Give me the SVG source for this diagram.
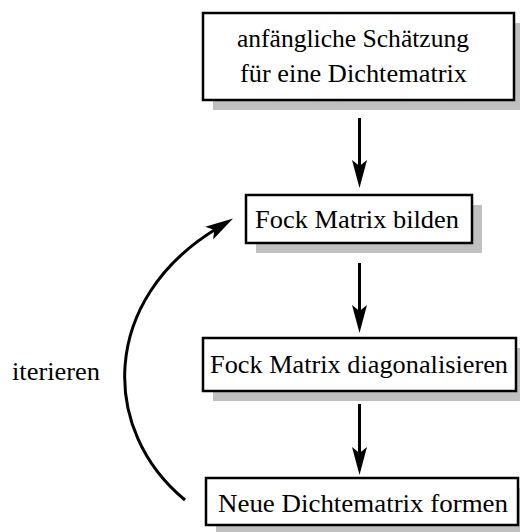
<svg xmlns="http://www.w3.org/2000/svg" width="520" height="532" viewBox="0 0 520 532">
<defs>
<marker id="ah" markerUnits="userSpaceOnUse" markerWidth="40" markerHeight="20" viewBox="-10 -10 40 20" refX="0" refY="0" orient="auto">
<path d="M-8,-7.5 L20,0 L-8,7.5 L-2,0 Z" fill="#000"/>
</marker>
</defs>
<style>
.shadow{fill:#c0c0c0;stroke:none}
.box{fill:#fff;stroke:#000;stroke-width:2.5}
.lbl{font-family:"Liberation Serif","Times New Roman",serif;font-size:25px;fill:#000}
.conn{fill:none;stroke:#000;stroke-width:3}
</style>
<rect width="520" height="532" fill="#fff"/>
<g id="node1">
<rect class="shadow" x="213" y="23" width="311" height="87"/>
<rect class="box" x="203" y="13" width="311" height="87"/>
<text class="lbl" x="237" y="47" textLength="232" lengthAdjust="spacingAndGlyphs">anfängliche Schätzung</text>
<text class="lbl" x="240" y="82" textLength="227" lengthAdjust="spacingAndGlyphs">für eine Dichtematrix</text>
</g>
<g id="node2">
<rect class="shadow" x="256" y="205" width="226" height="48"/>
<rect class="box" x="246" y="195" width="226" height="48"/>
<text class="lbl" x="255" y="228" textLength="204" lengthAdjust="spacingAndGlyphs">Fock Matrix bilden</text>
</g>
<g id="node3">
<rect class="shadow" x="213" y="348" width="312" height="53"/>
<rect class="box" x="203" y="338" width="313" height="53"/>
<text class="lbl" x="210" y="373" textLength="298" lengthAdjust="spacingAndGlyphs">Fock Matrix diagonalisieren</text>
</g>
<g id="node4">
<rect class="shadow" x="216" y="488" width="312" height="47"/>
<rect class="box" x="206" y="478" width="312" height="47"/>
<text class="lbl" x="218" y="512" textLength="290" lengthAdjust="spacingAndGlyphs">Neue Dichtematrix formen</text>
</g>
<g id="label">
<text class="lbl" x="12" y="380" textLength="88" lengthAdjust="spacingAndGlyphs">iterieren</text>
</g>
<g id="connectors">
<line class="conn" x1="359.5" y1="118" x2="359.5" y2="168" marker-end="url(#ah)"/>
<line class="conn" x1="359.5" y1="263" x2="359.5" y2="313" marker-end="url(#ah)"/>
<line class="conn" x1="359.5" y1="404" x2="359.5" y2="455" marker-end="url(#ah)"/>
<path class="conn" stroke-width="2.5" d="M185,500 C100,430 100,300 216,229" marker-end="url(#ah)"/>
</g>
</svg>
